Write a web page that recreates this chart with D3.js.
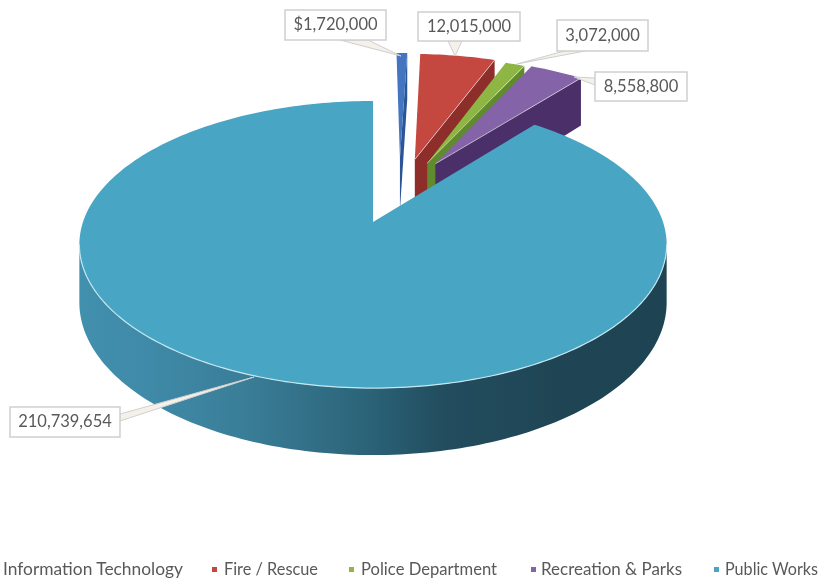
<!DOCTYPE html>
<html>
<head>
<meta charset="utf-8">
<script src="https://cdn.jsdelivr.net/npm/d3@7"></script>
<style>
  html, body { margin: 0; background: #fff; overflow: hidden; }
  svg { display: block; filter: blur(0.5px); }
  text { font-family: Lato, "Open Sans", sans-serif; fill: #595959; }
</style>
</head>
<body>
<div id="chart"></div>
<script>
// Data
const categories = ['Information Technology', 'Fire / Rescue', 'Police Department', 'Recreation & Parks', 'Public Works'];
const budget = [1720000, 12015000, 3072000, 8558800, 210739654];
const valueLabels = ['$1,720,000', '12,015,000', '3,072,000', '8,558,800', '210,739,654'];

// Styles per slice
const topColors = ['#4475c0', '#c4483f', '#8db644', '#8463a8', '#48a5c3'];
const wallColors = ['#2c5596', '#8e2e2a', '#5f8a2e', '#4b2f68', '#3a7f99'];

// How far each slice is pulled out of the pie, in pie radii
const explodeX = [0.10, 0.155, 0.20, 0.23, 0];
const explodeY = [0.49, 0.48, 0.45, 0.445, 0];

// Label boxes and their callout tips: [x, y, w, h], then base1, base2, tip
const labelBoxes = [[285, 10, 101, 30], [418, 12, 102, 29], [557, 20, 91, 31], [595, 72, 92, 29], [10, 407, 110, 30]];
const callouts = [
  [[340, 40], [368, 40], [401, 56]],
  [[448, 41], [462, 41], [455, 56]],
  [[575, 48], [585, 51], [517, 64]],
  [[595, 78], [595, 85], [574, 77]],
  [[120, 414], [120, 421], [254, 377]]
];

// Legend layout
const legendTextX = [3, 224, 361, 541, 725];
const legendTextW = [180, 94, 136, 141, 93];
const legendMarkX = [null, 212, 349, 531, 714];

const width = 820;
const height = 579;
const cx = 373;
const cy = 222;
const perspective = 0.157;
const depth = 56.5;

const svg = d3.select('#chart')
  .append('svg')
  .attr('width', width)
  .attr('height', height);

// Screen scales for a unit pie
const sx = d3.scaleLinear().domain([-1, 1]).range([cx - 290, cx + 290]);
const sy = d3.scaleLinear().domain([-1, 1]).range([cy + 140, cy - 140]);

// Ground point -> screen, with drop = height below the top surface
function project(gx, gy, drop = 0) {
  const s = 1 / (1 + perspective * gy);
  return [sx(gx * s), sy(gy * s) + drop * s];
}

function rimPoints(a0, a1, ox, oy, drop = 0) {
  const n = Math.max(2, Math.ceil(Math.abs(a1 - a0) / 0.02));
  return d3.range(n + 1).map(i => {
    const a = a0 + (a1 - a0) * i / n;
    return project(ox + Math.sin(a), oy + Math.cos(a), drop);
  });
}

const line = d3.line();
const slices = d3.pie().sort(null).value(d => d)(budget);

// Gradient on the outer wall of the big slice
const grad = svg.append('defs').append('linearGradient')
  .attr('id', 'wallGrad')
  .attr('gradientUnits', 'userSpaceOnUse')
  .attr('x1', 78).attr('x2', 666).attr('y1', 0).attr('y2', 0);
[[0, '#4190ae'], [0.12, '#3f8aa8'], [0.28, '#3a7e98'], [0.48, '#2c657a'], [0.62, '#224d5e'], [0.85, '#1f4453'], [1, '#1e4352']]
  .forEach(([o, c]) => grad.append('stop').attr('offset', o).attr('stop-color', c));

const chart = svg.append('g');

// Exploded slices, back to front
slices.slice(0, 4).forEach((d, i) => {
  const ox = explodeX[i];
  const oy = explodeY[i];
  const apex = project(ox, oy);
  const apexLow = project(ox, oy, depth);
  const corner = project(ox + Math.sin(d.endAngle), oy + Math.cos(d.endAngle));
  const cornerLow = project(ox + Math.sin(d.endAngle), oy + Math.cos(d.endAngle), depth);

  chart.append('path')
    .attr('d', line([apex, corner, cornerLow, apexLow]) + 'Z')
    .attr('fill', wallColors[i]);

  chart.append('path')
    .attr('d', line([apex, ...rimPoints(d.startAngle, d.endAngle, ox, oy)]) + 'Z')
    .attr('fill', topColors[i]);

  // pale edge, too much on the thin blue slice
  if (i > 0) {
    chart.append('path')
      .attr('d', line([apex, corner]))
      .attr('fill', 'none')
      .attr('stroke', '#fff')
      .attr('stroke-opacity', 0.55)
      .attr('stroke-width', 1);
  }
});

// Big slice: front wall, then the top
const big = slices[4];
const wallA0 = Math.acos(-perspective);
const wallA1 = 2 * Math.PI - wallA0;

chart.append('path')
  .attr('d', line([...rimPoints(wallA0, wallA1, 0, 0), ...rimPoints(wallA1, wallA0, 0, 0, depth)]) + 'Z')
  .attr('fill', 'url(#wallGrad)');

chart.append('path')
  .attr('d', line([project(0, 0), ...rimPoints(big.startAngle, big.endAngle, 0, 0)]) + 'Z')
  .attr('fill', topColors[4]);

chart.append('path')
  .attr('d', line(rimPoints(wallA0, wallA1, 0, 0)))
  .attr('fill', 'none')
  .attr('stroke', '#c5e8f0')
  .attr('stroke-width', 1.2);

// Callouts and labels
const labels = svg.append('g');

labels.selectAll('.callout')
  .data(callouts)
  .join('path')
  .attr('class', 'callout')
  .attr('d', d => line(d) + 'Z')
  .attr('fill', '#f4f1ea')
  .attr('stroke', '#cfcfcf')
  .attr('stroke-width', 1);

labels.selectAll('.label-box')
  .data(labelBoxes)
  .join('rect')
  .attr('class', 'label-box')
  .attr('x', d => d[0])
  .attr('y', d => d[1])
  .attr('width', d => d[2])
  .attr('height', d => d[3])
  .attr('fill', '#fff')
  .attr('stroke', '#cfcfcf')
  .attr('stroke-width', 1.5);

labels.selectAll('.label-text')
  .data(valueLabels)
  .join('text')
  .attr('class', 'label-text')
  .attr('x', (d, i) => labelBoxes[i][0] + labelBoxes[i][2] / 2)
  .attr('y', (d, i) => labelBoxes[i][1] + labelBoxes[i][3] / 2 + 5)
  .attr('text-anchor', 'middle')
  .attr('font-size', '16.5px')
  .text(d => d);

// Legend
const legend = svg.append('g');

legend.selectAll('rect')
  .data(categories.slice(1))
  .join('rect')
  .attr('x', (d, i) => legendMarkX[i + 1])
  .attr('y', 567)
  .attr('width', 5)
  .attr('height', 5)
  .attr('fill', (d, i) => topColors[i + 1]);

legend.selectAll('text')
  .data(categories)
  .join('text')
  .attr('x', (d, i) => legendTextX[i])
  .attr('y', 575)
  .attr('font-size', '16.5px')
  .attr('textLength', (d, i) => legendTextW[i])
  .attr('lengthAdjust', 'spacingAndGlyphs')
  .text(d => d);
</script>
</body>
</html>
